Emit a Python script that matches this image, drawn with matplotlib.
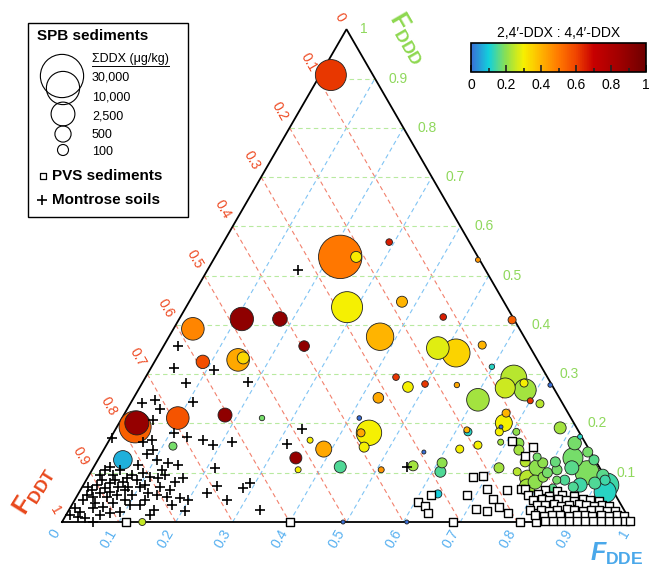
import numpy as np
import matplotlib
matplotlib.use("Agg")
import matplotlib.pyplot as plt
from matplotlib.colors import LinearSegmentedColormap, Normalize
from matplotlib.ticker import MultipleLocator
from matplotlib.patches import Rectangle
from matplotlib.lines import Line2D

plt.rcParams['font.family'] = ['Liberation Sans', 'DejaVu Sans']
plt.rcParams['mathtext.fontset'] = 'custom'
plt.rcParams['mathtext.rm'] = 'Liberation Sans'
plt.rcParams['mathtext.bf'] = 'Liberation Sans:bold'
plt.rcParams['mathtext.it'] = 'Liberation Sans:italic:bold'

# SPB sediments: F_DDE, F_DDD (F_DDT = 1 - both), sum DDX (ug/kg), 2,4'/4,4' ratio
spb_dde = [0.019, 0.220, 0.248, 0.291, 0.465, 0.283, 0.374, 0.462, 0.110, 0.177,
           0.034, 0.371, 0.484, 0.521, 0.559, 0.247, 0.145, 0.152, 0.085, 0.598,
           0.440, 0.471, 0.498, 0.555, 0.607, 0.430, 0.098, 0.178, 0.246, 0.417,
           0.449, 0.435, 0.353, 0.386, 0.455, 0.622, 0.618, 0.653, 0.118, 0.044,
           0.032, 0.031, 0.141, 0.586, 0.648, 0.643, 0.680, 0.671, 0.719, 0.700,
           0.720, 0.670, 0.676, 0.675, 0.677, 0.707, 0.780, 0.690, 0.625, 0.565,
           0.560, 0.608, 0.614, 0.713, 0.632, 0.606, 0.494, 0.346, 0.362, 0.433,
           0.508, 0.824, 0.821, 0.723, 0.730, 0.769, 0.753, 0.785, 0.806, 0.817,
           0.833, 0.872, 0.853, 0.749, 0.774, 0.791, 0.780, 0.803, 0.841, 0.873,
           0.841, 0.873, 0.903, 0.920, 0.924, 0.897, 0.863, 0.827, 0.800, 0.782,
           0.828, 0.912]
spb_ddd = [0.907, 0.538, 0.538, 0.568, 0.532, 0.436, 0.447, 0.416, 0.412, 0.412,
           0.392, 0.376, 0.353, 0.343, 0.359, 0.357, 0.329, 0.333, 0.325, 0.315,
           0.294, 0.274, 0.280, 0.278, 0.248, 0.252, 0.211, 0.217, 0.211, 0.211,
           0.181, 0.181, 0.166, 0.148, 0.152, 0.183, 0.187, 0.156, 0.154, 0.126,
           0.193, 0.201, 0.000, 0.410, 0.292, 0.272, 0.268, 0.282, 0.278, 0.246,
           0.240, 0.221, 0.201, 0.193, 0.183, 0.183, 0.191, 0.162, 0.148, 0.142,
           0.114, 0.120, 0.102, 0.110, 0.057, 0.000, 0.000, 0.130, 0.106, 0.112,
           0.106, 0.173, 0.160, 0.160, 0.146, 0.132, 0.122, 0.120, 0.122, 0.106,
           0.130, 0.126, 0.142, 0.102, 0.089, 0.081, 0.110, 0.100, 0.110, 0.100,
           0.085, 0.075, 0.095, 0.075, 0.061, 0.079, 0.071, 0.085, 0.091, 0.071,
           0.069, 0.085]
spb_sum = [7500, 30500, 100, 12, 3.7, 7500, 100, 12, 2320, 325,
           2010, 4490, 2010, 4900, 27, 86, 2010, 144, 228, 5.2,
           12, 86, 12, 5.2, 2010, 86, 2010, 273, 5.2, 2.6,
           3270, 27, 8, 477, 67, 27, 8, 27, 27, 893,
           8600, 2580, 15, 27, 3600, 1210, 1800, 27, 2.6, 8,
           27, 27, 613, 1.5, 27, 15, 144, 8, 27, 1.5,
           67, 67, 100, 67, 27, 1.5, 1.5, 144, 8, 144,
           8, 3.7, 228, 67, 67, 27, 67, 67, 67, 67,
           1210, 67, 67, 27, 477, 273, 477, 67, 273, 2580,
           67, 273, 144, 2580, 1800, 144, 67, 27, 67, 477,
           27, 67]
spb_ratio = [0.62, 0.50, 0.31, 0.66, 0.45, 0.30, 0.40, 0.66, 0.90, 0.90,
             0.48, 0.40, 0.28, 0.35, 0.40, 0.90, 0.42, 0.34, 0.58, 0.12,
             0.62, 0.30, 0.62, 0.42, 0.22, 0.42, 0.57, 0.90, 0.18, 0.00,
             0.30, 0.42, 0.30, 0.42, 0.30, 0.12, 0.40, 0.30, 0.18, 0.07,
             0.55, 0.88, 0.25, 0.55, 0.24, 0.26, 0.22, 0.30, 0.00, 0.62,
             0.24, 0.40, 0.30, 0.00, 0.30, 0.20, 0.22, 0.22, 0.30, 0.00,
             0.22, 0.20, 0.15, 0.22, 0.10, 0.00, 0.00, 0.88, 0.30, 0.15,
             0.45, 0.12, 0.18, 0.20, 0.22, 0.18, 0.24, 0.20, 0.17, 0.18,
             0.18, 0.16, 0.18, 0.24, 0.24, 0.20, 0.20, 0.18, 0.16, 0.19,
             0.15, 0.14, 0.16, 0.14, 0.12, 0.15, 0.15, 0.18, 0.20, 0.22,
             0.16, 0.14]

# PVS sediments
pvs_dde = [0.112, 0.401, 0.687, 0.805, 0.833, 0.605, 0.622, 0.634, 0.621, 0.684,
           0.677, 0.693, 0.713, 0.734, 0.753, 0.714, 0.736, 0.775, 0.750, 0.773,
           0.752, 0.709, 0.747,
           0.781, 0.816, 0.839,
           0.792, 0.809, 0.830, 0.851, 0.874,
           0.805, 0.820, 0.834, 0.848, 0.863, 0.878, 0.892, 0.906, 0.923,
           0.818, 0.832, 0.846, 0.860, 0.874, 0.890, 0.904, 0.918, 0.932, 0.946,
           0.810, 0.830, 0.844, 0.858, 0.874, 0.888, 0.904, 0.918, 0.932, 0.946, 0.960,
           0.824, 0.840, 0.854, 0.868, 0.884, 0.898, 0.912, 0.926, 0.940, 0.954, 0.968, 0.981,
           0.848, 0.862, 0.876, 0.890, 0.904, 0.918, 0.932, 0.946, 0.960, 0.974, 0.988, 0.997]
pvs_ddd = [0.000, 0.000, 0.000, 0.000, 0.000, 0.041, 0.032, 0.018, 0.055, 0.055,
           0.091, 0.093, 0.067, 0.047, 0.030, 0.026, 0.022, 0.018, 0.065, 0.067,
           0.152, 0.164, 0.134,
           0.066, 0.064, 0.062,
           0.055, 0.056, 0.053, 0.054, 0.052,
           0.045, 0.046, 0.044, 0.047, 0.045, 0.043, 0.046, 0.044, 0.042,
           0.035, 0.034, 0.036, 0.033, 0.035, 0.036, 0.034, 0.033, 0.035, 0.032,
           0.024, 0.025, 0.023, 0.024, 0.026, 0.024, 0.023, 0.025, 0.024, 0.022, 0.023,
           0.014, 0.013, 0.015, 0.014, 0.013, 0.015, 0.014, 0.012, 0.014, 0.013, 0.015, 0.012,
           0.002, 0.002, 0.002, 0.002, 0.002, 0.002, 0.002, 0.002, 0.002, 0.002, 0.002, 0.002]

# Montrose soils
mont_dde = [0.159, 0.025, 0.041, 0.113, 0.077, 0.185, 0.108, 0.040, 0.020, 0.058,
            0.056, 0.133, 0.165, 0.218, 0.187, 0.327, 0.316, 0.075, 0.003, 0.061,
            0.107, 0.087, 0.080, 0.104, 0.126, 0.146, 0.214, 0.076, 0.028, 0.023,
            0.019, 0.042, 0.070, 0.089, 0.124, 0.168, 0.158, 0.137, 0.102, 0.122,
            0.096, 0.078, 0.140, 0.159, 0.183, 0.199, 0.225, 0.268, 0.284, 0.291,
            0.205, 0.148, 0.150, 0.120, 0.102, 0.070, 0.057, 0.040, 0.021, 0.023,
            0.054, 0.075, 0.092, 0.017, 0.020, 0.015, 0.024, 0.028, 0.010, 0.045,
            0.063, 0.067, 0.080, 0.075, 0.049, 0.069, 0.054, 0.037, 0.054, 0.050,
            0.029, 0.236, 0.336, 0.550, 0.007, 0.009, 0.039, 0.108, 0.109, 0.133,
            0.157, 0.176, 0.124, 0.088, 0.060, 0.036, 0.041, 0.093, 0.123]
mont_ddd = [0.512, 0.357, 0.313, 0.309, 0.282, 0.284, 0.244, 0.248, 0.242, 0.229,
            0.207, 0.173, 0.166, 0.162, 0.156, 0.189, 0.158, 0.166, 0.171, 0.162,
            0.181, 0.146, 0.138, 0.126, 0.120, 0.116, 0.110, 0.116, 0.112, 0.106,
            0.095, 0.095, 0.089, 0.085, 0.089, 0.089, 0.081, 0.071, 0.071, 0.059,
            0.055, 0.065, 0.055, 0.051, 0.049, 0.045, 0.059, 0.045, 0.069, 0.079,
            0.022, 0.014, 0.024, 0.035, 0.035, 0.039, 0.030, 0.028, 0.020, 0.010,
            0.000, 0.018, 0.020, 0.055, 0.065, 0.045, 0.075, 0.085, 0.071, 0.079,
            0.071, 0.081, 0.071, 0.095, 0.106, 0.055, 0.051, 0.059, 0.061, 0.085,
            0.051, 0.073, 0.024, 0.112, 0.014, 0.028, 0.039, 0.075, 0.091, 0.095,
            0.065, 0.035, 0.045, 0.045, 0.014, 0.008, 0.069, 0.099, 0.106]

legend_sums = [30000, 10000, 2500, 500, 100]
legend_labels = ['30,000', '10,000', '2,500', '500', '100']

RED = '#ee4a22'
GREEN = '#8fd85c'
BLUE = '#55aff0'


def to_xy(dde, ddd):
    dde = np.asarray(dde, float)
    ddd = np.asarray(ddd, float)
    return dde + ddd / 2, ddd * np.sqrt(3) / 2


def marker_area(conc):
    r_px = 5.5 * (np.asarray(conc, float) / 100) ** 0.24
    return (2 * r_px * 0.72) ** 2


cmap = LinearSegmentedColormap.from_list('ddx', [
    (0.0, '#3a6fd8'), (0.1, '#12d0dc'), (0.2, '#8ee04e'), (0.3, '#f7f000'),
    (0.4, '#ffb400'), (0.5, '#ff7800'), (0.6, '#f04400'), (0.7, '#c80000'),
    (0.85, '#a00000'), (1.0, '#6e0000')])
norm = Normalize(0, 1)

fig = plt.figure(figsize=(6.49, 5.69), dpi=100)
ax = fig.add_axes([0, 0, 1, 1])
ax.set_xlim(-62 / 569, 587 / 569)
ax.set_ylim(-47 / 569, 522 / 569)
ax.axis('off')

# grid lines
for t in np.arange(1, 10) / 10:
    x, y = to_xy([0, 1 - t], [t, t])
    ax.plot(x, y, color='#b8eaa0', lw=0.8, dashes=(4, 3), zorder=1)
    x, y = to_xy([0, 1 - t], [1 - t, 0])
    ax.plot(x, y, color='#f2806c', lw=0.8, dashes=(4, 3), zorder=1)
    x, y = to_xy([t, t], [0, 1 - t])
    ax.plot(x, y, color='#80c4f4', lw=0.8, dashes=(4, 3), zorder=1)

x, y = to_xy([0, 1, 0, 0], [0, 0, 1, 0])
ax.plot(x, y, color='black', lw=1.3, zorder=2, solid_joinstyle='miter')

# tick labels
for t in np.arange(0, 11) / 10:
    lab = '0' if t == 0 else ('1' if t == 1 else f'{t:.1f}')
    px, py = to_xy(0, 1 - t)
    ax.annotate(lab, (px, py), xytext=(-3.5, 6), textcoords='offset points',
                rotation=-60, rotation_mode='anchor', ha='right', va='center',
                color=RED, fontsize=10, zorder=1)
    px, py = to_xy(t, 0)
    ax.annotate(lab, (px, py), xytext=(-3.5, -6), textcoords='offset points',
                rotation=60, rotation_mode='anchor', ha='right', va='center',
                color=BLUE, fontsize=10, zorder=1)
    if t > 0:
        px, py = to_xy(1 - t, t)
        ax.annotate(lab, (px, py), xytext=(10, 0), textcoords='offset points',
                    ha='left', va='center', color=GREEN, fontsize=10, zorder=1)

# SPB circles, big ones first
order = np.argsort(spb_sum)[::-1]
sx, sy = to_xy(np.array(spb_dde)[order], np.array(spb_ddd)[order])
ax.scatter(sx, sy, s=marker_area(np.array(spb_sum)[order]),
           c=np.array(spb_ratio)[order], cmap=cmap, norm=norm,
           edgecolors='#202020', linewidths=0.6, zorder=3)

px_, py_ = to_xy(pvs_dde, pvs_ddd)
ax.scatter(px_, py_, marker='s', s=30, facecolor='white', edgecolor='black',
           linewidths=1.0, zorder=4)

mx, my = to_xy(mont_dde, mont_ddd)
ax.scatter(mx, my, marker='+', s=62, color='black', linewidths=1.2, zorder=5)

# axis titles
fig.text(34 / 649, 1 - 490 / 569, r'$\mathbf{F}_{\mathbf{DDT}}$', color='#e8481c',
         fontsize=18, rotation=58, ha='center', va='center')
fig.text(408 / 649, 1 - 38 / 569, r'$\mathbf{F}_{\mathbf{DDD}}$', color='#8ed850',
         fontsize=18, rotation=-60, ha='center', va='center')
fig.text(617 / 649, 1 - 554 / 569, r'$\mathit{F}_{\mathbf{DDE}}$', color='#4aa8ea',
         fontsize=18, ha='center', va='center')

# legend box
lax = fig.add_axes([0, 0, 1, 1], zorder=6)
lax.set_xlim(0, 649)
lax.set_ylim(569, 0)
lax.axis('off')
lax.add_patch(Rectangle((28, 23), 160, 194, facecolor='white', edgecolor='black', lw=1))
lax.text(37, 36, 'SPB sediments', fontsize=11, fontweight='bold', va='center')
hdr = lax.text(92, 59, 'ΣDDX (μg/kg)', fontsize=9, va='center')
lax.scatter([62, 63, 63, 63, 63], [76, 88, 114, 134, 150], s=marker_area(legend_sums),
            facecolor='none', edgecolor='black', linewidths=0.8)
for lab, yy in zip(legend_labels, [77, 97, 116, 135, 152]):
    lax.text(92, yy, lab, fontsize=9, va='center')
lax.scatter([43], [176], marker='s', s=14, facecolor='white', edgecolor='black', linewidths=0.9)
lax.text(52, 176, 'PVS sediments', fontsize=11, fontweight='bold', va='center')
lax.scatter([42], [200], marker='+', s=55, color='black', linewidths=1.2)
lax.text(52, 200, 'Montrose soils', fontsize=11, fontweight='bold', va='center')

# colorbar
cax = fig.add_axes([471 / 649, 1 - 72 / 569, 175 / 649, 29 / 569])
sm = plt.cm.ScalarMappable(norm=norm, cmap=cmap)
cb = fig.colorbar(sm, cax=cax, orientation='horizontal')
cb.set_ticks([0, 0.2, 0.4, 0.6, 0.8, 1])
cb.set_ticklabels(['0', '0.2', '0.4', '0.6', '0.8', '1'])
cax.xaxis.set_minor_locator(MultipleLocator(0.1))
cax.tick_params(which='both', direction='in', bottom=True, top=False, color='#222222')
cax.tick_params(which='major', length=5, width=1.2, labelsize=10, pad=4)
cax.tick_params(which='minor', length=3, width=1.2)
cb.outline.set_linewidth(1.2)
cax.set_title('2,4′-DDX : 4,4′-DDX', fontsize=10, pad=4)

# underline the legend header
fig.canvas.draw()
bb = hdr.get_window_extent()
inv = lax.transData.inverted()
(x0, y0), (x1, _) = inv.transform([(bb.x0, bb.y0), (bb.x1, bb.y0)])
lax.add_line(Line2D([x0, x1], [y0 + 1, y0 + 1], color='black', lw=0.7))

fig.savefig('out.png', dpi=100)
